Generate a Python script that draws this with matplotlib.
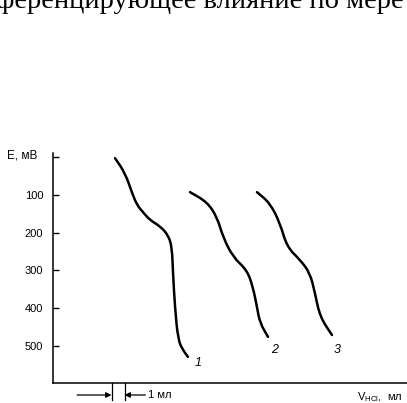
import matplotlib
matplotlib.use("Agg")
import matplotlib.pyplot as plt
from matplotlib.path import Path
from matplotlib.patches import PathPatch

# titration curves, V in ml, E in mV
v1 = [4.77, 5.54, 6.08, 6.46, 6.92, 7.46, 8.23, 8.85, 9.15, 9.23, 9.38, 9.62, 10.0, 10.38]
e1 = [3, 42, 95, 127, 146, 167, 183, 206, 238, 307, 397, 484, 511, 529]

v2 = [10.54, 11.85, 12.62, 13.08, 13.85, 14.92, 15.38, 15.69, 15.92, 16.54]
e2 = [93, 119, 159, 212, 265, 299, 344, 397, 439, 476]

v3 = [15.69, 16.69, 17.46, 18.0, 19.0, 19.77, 20.15, 20.54, 21.46]
e3 = [93, 122, 175, 238, 272, 307, 360, 423, 471]

curve_labels = ["1", "2", "3"]
label_pos = [(11.15, 545), (17.08, 511), (21.9, 511)]

yticks = [0, 100, 200, 300, 400, 500]
yticklabels = ["", "100", "200", "300", "400", "500"]


def smooth_path(xs, ys):
    # quadratic bezier through midpoints, hand-drawn look
    pts = list(zip(xs, ys))
    verts = [pts[0]]
    codes = [Path.MOVETO]
    mid = lambda a, b: ((a[0] + b[0]) / 2, (a[1] + b[1]) / 2)
    verts.append(mid(pts[0], pts[1]))
    codes.append(Path.LINETO)
    for i in range(1, len(pts) - 1):
        verts += [pts[i], mid(pts[i], pts[i + 1])]
        codes += [Path.CURVE3, Path.CURVE3]
    verts.append(pts[-1])
    codes.append(Path.LINETO)
    return Path(verts, codes)


W, H = 407, 403
fig = plt.figure(figsize=(W / 100, H / 100), dpi=100)
ax = fig.add_axes([53 / W, 20 / H, (W - 53) / W, (383 - 153) / H])

for v, e in [(v1, e1), (v2, e2), (v3, e3)]:
    ax.add_patch(PathPatch(smooth_path(v, e), facecolor="none",
                           edgecolor="black", linewidth=1.8,
                           capstyle="round", joinstyle="round"))

for lab, (x, y) in zip(curve_labels, label_pos):
    ax.text(x, y, lab, fontsize=9, style="italic", family="Liberation Sans",
            ha="center", va="center")

ax.set_xlim(0, (W - 53) / 13)
ax.set_ylim(598, -10.6)

ax.spines["top"].set_visible(False)
ax.spines["right"].set_visible(False)
ax.spines["left"].set_linewidth(1.1)
ax.spines["bottom"].set_linewidth(1.1)

ax.set_xticks([])
ax.set_yticks(yticks)
ax.set_yticklabels(yticklabels, fontsize=8, family="Liberation Sans")
ax.tick_params(axis="y", direction="in", length=4, width=1, pad=7)

# axis captions
fig.text(7 / W, 1 - 156 / H, "E, мВ", fontsize=8.5,
         family="Liberation Sans", ha="left", va="center")
fig.text(357 / W, 1 - 397 / H, "V$_{\\mathregular{НСl}}$,  мл", fontsize=8,
         family="Liberation Sans", ha="left", va="center")

# 1 ml bracket under the axis
tr = ax.get_xaxis_transform()
for xb in [4.5, 5.5]:
    ax.plot([xb, xb], [0, -17 / 230], color="black", linewidth=0.9,
            transform=tr, clip_on=False)
ax.annotate("", xy=(4.5, -12 / 230), xytext=(1.85, -12 / 230),
            xycoords=tr, textcoords=tr,
            arrowprops=dict(arrowstyle="-|>", color="black", lw=0.9,
                            mutation_scale=8, shrinkA=0, shrinkB=0))
ax.annotate("", xy=(5.5, -12 / 230), xytext=(7.1, -12 / 230),
            xycoords=tr, textcoords=tr,
            arrowprops=dict(arrowstyle="-|>", color="black", lw=0.9,
                            mutation_scale=8, shrinkA=0, shrinkB=0))
ax.text(7.3, -12 / 230, "1 мл", transform=tr, fontsize=8,
        family="Liberation Sans", ha="left", va="center")

# cropped line of book text above the figure
fig.text(-4 / W, 1 - 8 / H, "ференцирующее влияние по мере", fontsize=20.5,
         family="Liberation Serif", ha="left", va="baseline")

fig.savefig("out.png", dpi=100)
